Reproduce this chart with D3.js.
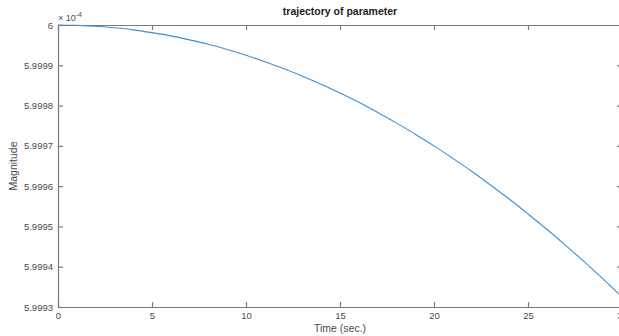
<!DOCTYPE html>
<html>
<head>
<meta charset="utf-8">
<script src="https://cdn.jsdelivr.net/npm/d3@7"></script>
<style>
  body { margin: 0; background: #fff; }
  text { font-family: "Liberation Sans", Arial, sans-serif; }
</style>
</head>
<body>
<div id="chart"></div>
<script>
// data, values in units of 1e-4
const time = [0, 1, 2, 3, 4, 5, 6, 7, 8, 9, 10, 11, 12, 13, 14, 15, 16, 17, 18, 19, 20, 21, 22, 23, 24, 25, 26, 27, 28, 29, 30]
const magnitude = [6.0, 5.999999, 5.999997, 5.999993, 5.999988, 5.999981, 5.999973, 5.999963, 5.999952, 5.999939,
  5.999925, 5.999909, 5.999892, 5.999873, 5.999853, 5.999831, 5.999808, 5.999783, 5.999757, 5.999729,
  5.999700, 5.999669, 5.999637, 5.999603, 5.999568, 5.999531, 5.999493, 5.999453, 5.999412, 5.999369, 5.999325]
const xTicks = [0, 5, 10, 15, 20, 25, 30]
const yTicks = [5.9993, 5.9994, 5.9995, 5.9996, 5.9997, 5.9998, 5.9999, 6]

const width = 619
const height = 336
const margin = { left: 58, right: -3, top: 25, bottom: 29 }

var svg = d3.select("#chart")
  .append("svg")
  .attr("width", width)
  .attr("height", height)

var x = d3.scaleLinear()
  .domain([0, 30])
  .range([margin.left, width - margin.right])

var y = d3.scaleLinear()
  .domain([5.9993, 6])
  .range([height - margin.bottom, margin.top])

var axisColor = "#7a7a7a"
var labelColor = "#4a4a4a"

// bottom axis
var xAxis = svg.append("g")
  .attr("transform", "translate(0," + (height - margin.bottom) + ")")
  .call(d3.axisBottom(x).tickValues(xTicks).tickSizeInner(-5).tickSizeOuter(0).tickPadding(5))
// top axis (ticks only)
var xTop = svg.append("g")
  .attr("transform", "translate(0," + margin.top + ")")
  .call(d3.axisTop(x).tickValues(xTicks).tickSizeInner(-5).tickSizeOuter(0).tickFormat(""))
// left axis
var yAxis = svg.append("g")
  .attr("transform", "translate(" + margin.left + ",0)")
  .call(d3.axisLeft(y).tickValues(yTicks).tickSizeInner(-5).tickSizeOuter(0).tickPadding(5)
    .tickFormat(function(d){ return d === 6 ? "6" : d3.format(".4f")(d) }))
// right axis (ticks only)
var yRight = svg.append("g")
  .attr("transform", "translate(" + (width - margin.right) + ",0)")
  .call(d3.axisRight(y).tickValues(yTicks).tickSizeInner(-5).tickSizeOuter(0).tickFormat(""))

svg.selectAll(".domain, .tick line")
  .attr("stroke", axisColor)
  .attr("stroke-width", 1.2)

svg.selectAll(".tick text")
  .attr("fill", labelColor)
  .style("font-size", "9.5px")

// the line
var line = d3.line()
  .x(function(d, i){ return x(time[i]) })
  .y(function(d){ return y(d) })
  .curve(d3.curveMonotoneX)

svg.append("path")
  .datum(magnitude)
  .attr("d", line)
  .attr("fill", "none")
  .attr("stroke", "#3f8fd0")
  .attr("stroke-width", 1.1)

// exponent label
var expo = svg.append("text")
  .attr("x", margin.left)
  .attr("y", 21)
  .attr("fill", labelColor)
  .style("font-size", "9px")
expo.append("tspan").text("\u00d7 10")
expo.append("tspan").attr("dy", -4).style("font-size", "7px").text("-4")

// title
svg.append("text")
  .attr("x", (margin.left + width - margin.right) / 2)
  .attr("y", 15)
  .attr("text-anchor", "middle")
  .style("font-size", "10.5px")
  .style("font-weight", "bold")
  .attr("fill", "#222")
  .text("trajectory of parameter")

// axis labels
svg.append("text")
  .attr("x", (margin.left + width - margin.right) / 2)
  .attr("y", 332)
  .attr("text-anchor", "middle")
  .style("font-size", "10.5px")
  .attr("fill", labelColor)
  .text("Time (sec.)")

svg.append("text")
  .attr("transform", "translate(17," + ((margin.top + height - margin.bottom) / 2) + ") rotate(-90)")
  .attr("text-anchor", "middle")
  .style("font-size", "10.5px")
  .attr("fill", labelColor)
  .text("Magnitude")
</script>
</body>
</html>
